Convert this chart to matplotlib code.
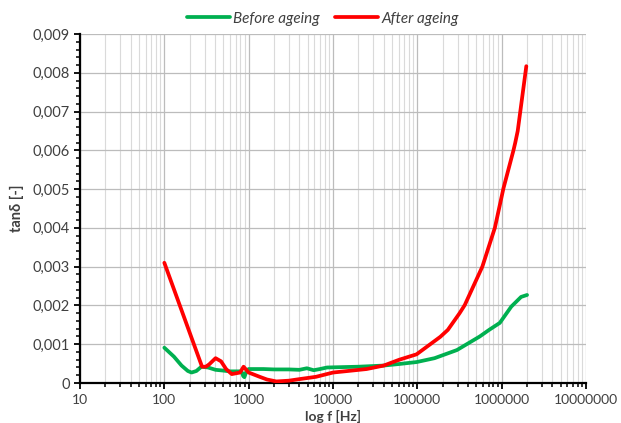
import matplotlib
matplotlib.use("Agg")
import matplotlib.pyplot as plt
from matplotlib.ticker import FixedLocator, MultipleLocator, FuncFormatter, LogLocator, NullFormatter

plt.rcParams['font.family'] = ['Lato', 'DejaVu Sans']

f_before = [100, 130, 160, 190, 210, 240, 275, 330, 405, 500, 600, 720, 800, 840, 860, 890, 940, 1000,
            1500, 2000, 3000, 4000, 4900, 5900, 7000, 8500, 20000, 40000, 61000, 98000,
            160000, 295000, 550000, 710000, 950000, 1300000, 1700000, 2000000]
tan_before = [0.00091, 0.00068, 0.00045, 0.00031, 0.00027, 0.00031, 0.00042, 0.00040, 0.00034, 0.00032,
              0.00030, 0.00030, 0.00030, 0.00026, 0.00018, 0.00015, 0.00030, 0.00036,
              0.00036, 0.00035, 0.00035, 0.00034, 0.00038, 0.00033, 0.00036, 0.00040, 0.00042, 0.00045, 0.00049, 0.00054,
              0.00064, 0.00085, 0.00120, 0.00137, 0.00155, 0.00197, 0.00222, 0.00227]

f_after = [100, 280, 310, 340, 405, 470, 540, 630, 790, 870, 920, 1000, 1350, 1650, 2130,
           3000, 4000, 6300, 10000, 25000, 40000, 61000, 98000, 187000, 230000, 317000, 365000, 590000,
           830000, 1050000, 1380000, 1450000, 1550000, 1960000]
tan_after = [0.0031, 0.00042, 0.00042, 0.00048, 0.00064, 0.00056, 0.00036, 0.00023, 0.00027, 0.00042, 0.00036,
             0.00027, 0.00016, 0.00009, 0.00004,
             0.00006, 0.00010, 0.00016, 0.00027, 0.00036, 0.00045, 0.00060, 0.00074, 0.00119, 0.00137, 0.00180, 0.00201,
             0.0030, 0.0040, 0.00502, 0.0060, 0.0062, 0.0065, 0.00817]

series_labels = ["Before ageing", "After ageing"]
x_ticks = [10, 100, 1000, 10000, 100000, 1000000, 10000000]
x_tick_labels = ["10", "100", "1000", "10000", "100000", "1000000", "10000000"]

fig = plt.figure(figsize=(6.21, 4.23), dpi=100)
ax = fig.add_axes([80/621, 40/423, (586-80)/621, (383-34)/423])

ax.plot(f_before, tan_before, color="#00B050", lw=2.7, label=series_labels[0],
        solid_capstyle='round', solid_joinstyle='round', zorder=3)
ax.plot(f_after, tan_after, color="#FF0000", lw=2.7, label=series_labels[1],
        solid_capstyle='round', solid_joinstyle='round', zorder=4)

ax.set_xscale('log')
ax.set_xlim(10, 1e7)
ax.set_ylim(0, 0.009)

ax.xaxis.set_major_locator(FixedLocator(x_ticks))
ax.set_xticklabels(x_tick_labels)
ax.xaxis.set_minor_locator(LogLocator(base=10, subs=range(2, 10), numticks=20))
ax.xaxis.set_minor_formatter(NullFormatter())

ax.yaxis.set_major_locator(MultipleLocator(0.001))
ax.yaxis.set_minor_locator(MultipleLocator(0.0002))
ax.yaxis.set_major_formatter(FuncFormatter(lambda v, p: "0" if abs(v) < 1e-12 else f"{v:.3f}".replace('.', ',')))

ax.grid(True, which='major', axis='both', color='#bcbcbc', lw=0.9)
ax.grid(True, which='minor', axis='x', color='#dadada', lw=0.8)
ax.set_axisbelow(True)

for s in ['top', 'right']:
    ax.spines[s].set_visible(False)
for s in ['left', 'bottom']:
    ax.spines[s].set_linewidth(1.6)
    ax.spines[s].set_color('black')

ax.tick_params(axis='both', which='major', direction='out', length=4, width=1.3, labelsize=10.5,
               colors='black', labelcolor='#404040')
ax.tick_params(axis='both', which='minor', direction='out', length=3, width=1.1, colors='black')
ax.tick_params(axis='x', pad=4, labelsize=10)

ax.set_xlabel("log f [Hz]", fontsize=10, fontweight='bold', color='#404040')
ax.xaxis.set_label_coords(0.5, -0.076)
ax.set_ylabel("tanδ [-]", fontsize=10.5, fontweight='bold', color='#404040', labelpad=6)

leg = fig.legend(loc='upper center', bbox_to_anchor=(0.52, 1.005), ncol=2, frameon=False,
                 prop={'style': 'italic', 'size': 11}, handlelength=2.8, columnspacing=1.0, handletextpad=0.2)
for t in leg.get_texts():
    t.set_color('#404040')

fig.savefig("out.png", dpi=100)
